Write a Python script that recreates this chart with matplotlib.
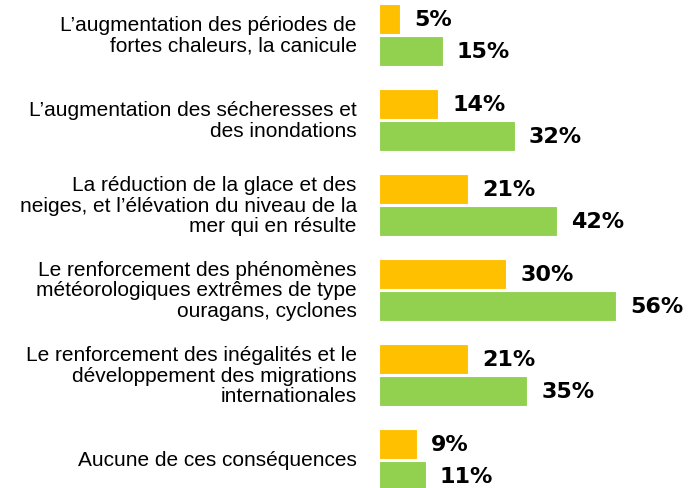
import numpy as np
from matplotlib import pyplot as plt

# consequences of climate change, two series
categories = [
    "L\u2019augmentation des périodes de\nfortes chaleurs, la canicule",
    "L\u2019augmentation des sécheresses et\ndes inondations",
    "La réduction de la glace et des\nneiges, et l\u2019élévation du niveau de la\nmer qui en résulte",
    "Le renforcement des phénomènes\nmétéorologiques extrêmes de type\nouragans, cyclones",
    "Le renforcement des inégalités et le\ndéveloppement des migrations\ninternationales",
    "Aucune de ces conséquences",
]
orange_vals = [5, 14, 21, 30, 21, 9]
green_vals = [15, 32, 42, 56, 35, 11]

plt.rcParams['font.family'] = ['Liberation Sans', 'DejaVu Sans']

fig = plt.figure(figsize=(6.9, 4.89), dpi=100)
ax = fig.add_axes([379 / 690, 0, 1 - 379 / 690, 1])

y = np.arange(len(categories))
off = 0.188
h = 0.35
ax.barh(y - off, orange_vals, height=h, color='#FFC000', edgecolor='white', linewidth=0.8)
ax.barh(y + off, green_vals, height=h, color='#92D050', edgecolor='white', linewidth=0.8)

ax.set_xlim(0, (690 - 379) / 4.24)
ax.set_ylim((489 - 36) / 85, -36 / 85)
ax.axis('off')

for i in range(len(categories)):
    ax.annotate(f"{orange_vals[i]}%", (orange_vals[i], y[i] - off), xytext=(10, 0),
                textcoords='offset points', va='center', ha='left',
                fontsize=16, fontweight='bold', family=['DejaVu Sans'])
    ax.annotate(f"{green_vals[i]}%", (green_vals[i], y[i] + off), xytext=(10, 0),
                textcoords='offset points', va='center', ha='left',
                fontsize=16, fontweight='bold', family=['DejaVu Sans'])
    ax.annotate(categories[i], (0, y[i]), xytext=(-16, 0), textcoords='offset points',
                va='center', ha='right', fontsize=15, linespacing=1.1,
                annotation_clip=False)

fig.savefig('out.png', dpi=100)
